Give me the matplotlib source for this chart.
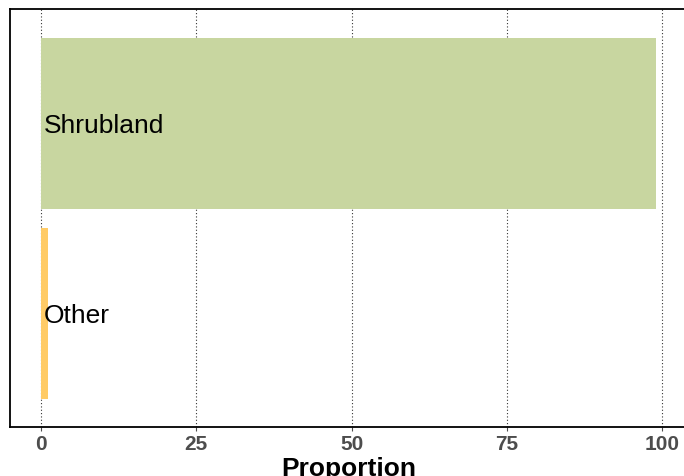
import matplotlib
matplotlib.use("Agg")
import matplotlib.pyplot as plt

categories = ["Shrubland", "Other"]
values = [98.9, 1.1]
colors = ["#C8D6A0", "#FFCB66"]
xticks = [0, 25, 50, 75, 100]

plt.rcParams['font.family'] = ['Liberation Sans', 'DejaVu Sans']

fig = plt.figure(figsize=(6.84, 4.77), dpi=100)
ax = fig.add_axes([10/684, 49/477, 677/684, 418/477])

ypos = [2, 1]
ax.barh(ypos, values, height=0.9, color=colors, zorder=2)
for y, c in zip(ypos, categories):
    ax.text(0.5, y - 0.01, c, ha='left', va='center', fontsize=19, color='black', zorder=3)

ax.set_xlim(-4.95, 103.95)
ax.set_ylim(0.4, 2.6)
ax.set_yticks([])
ax.set_xticks(xticks)
ax.set_xticklabels([str(t) for t in xticks], fontsize=15, fontweight='bold', color='#4D4D4D')
ax.tick_params(axis='x', length=3, width=0.8, color='#4D4D4D', pad=2)
ax.grid(axis='x', linestyle=(0, (1, 2)), color='#333333', linewidth=0.8, zorder=1)
ax.set_axisbelow(True)
ax.spines['right'].set_visible(False)
for s in ['left', 'top', 'bottom']:
    ax.spines[s].set_linewidth(1.3)
    ax.spines[s].set_color('black')
ax.set_xlabel("Proportion", fontsize=19, fontweight='bold', labelpad=2)

fig.savefig("out.png", dpi=100)
